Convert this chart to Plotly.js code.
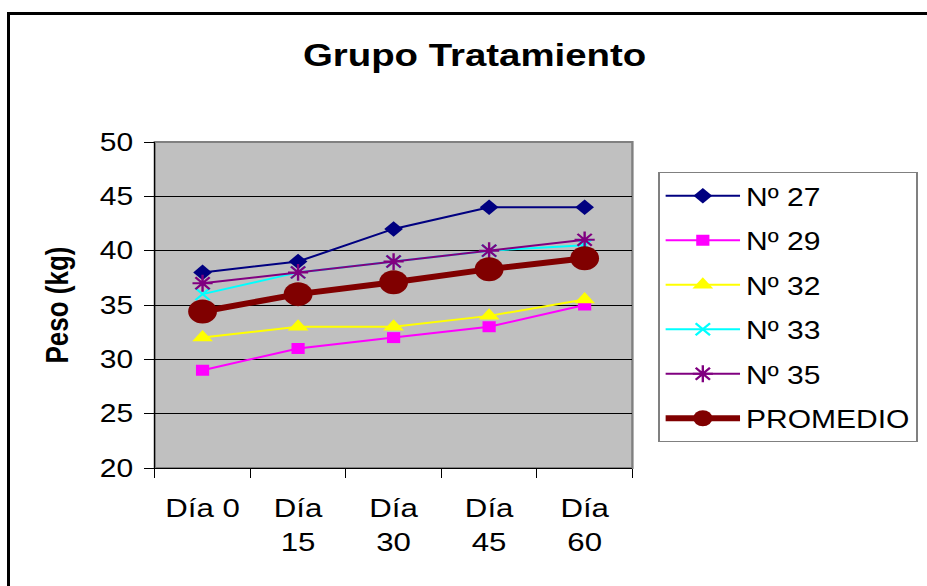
<!DOCTYPE html>
<html>
<head>
<meta charset="utf-8">
<script src="https://cdn.plot.ly/plotly-3.0.1.min.js"></script>
<style>
  html, body { margin: 0; padding: 0; width: 927px; height: 586px; overflow: hidden; background: #fff; }
  #wrap { position: absolute; left: 0; top: 0; width: 772.5px; height: 586px; transform: scaleX(1.2); transform-origin: 0 0; }
  #chart { width: 772.5px; height: 586px; }
  #frame { position: absolute; left: 7px; top: 12px; width: 960px; height: 620px; border: 3px solid #000; pointer-events: none; }
</style>
</head>
<body>
<div id="wrap"><div id="chart"></div></div>
<div id="frame"></div>
<script>
const categories = ["Día 0", "Día<br>15", "Día<br>30", "Día<br>45", "Día<br>60"];
const seriesNames = ["Nº 27", "Nº 29", "Nº 32", "Nº 33", "Nº 35", "PROMEDIO"];
const n27 = [38, 39, 42, 44, 44];
const n29 = [29, 31, 32, 33, 35];
const n32 = [32, 33, 33, 34, 35.5];
const n33 = [36, 38, 39, 40, 40.5];
const n35 = [37, 38, 39, 40, 41];
const promedio = [34.4, 36, 37.1, 38.3, 39.3];
const yTicks = [20, 25, 30, 35, 40, 45, 50];

const values = [n27, n29, n32, n33, n35, promedio];
const colors = ["#000080", "#ff00ff", "#ffff00", "#00ffff", "#800080", "#800000"];
const symbols = ["diamond", "square", "triangle-up", "x-thin-open", "asterisk-open", "circle"];
const sizes = [12, 11, 15, 12, 14, 24];
const widths = [2, 2, 2, 2, 2, 6];

const traces = values.map((v, i) => ({
  x: categories,
  y: v,
  name: seriesNames[i],
  legendgroup: "g" + i,
  type: "scatter",
  mode: "lines+markers",
  line: { color: colors[i], width: widths[i] },
  marker: {
    symbol: symbols[i],
    size: sizes[i],
    color: colors[i],
    line: { color: colors[i], width: (i === 3 || i === 4) ? 2 : 0 }
  }
}));

const layout = {
  width: 772.5,
  height: 586,
  margin: { l: 129.2, r: 245.8, t: 142, b: 118, autoexpand: false },
  paper_bgcolor: "rgba(0,0,0,0)",
  plot_bgcolor: "#c0c0c0",
  font: { family: "Liberation Sans, Arial, sans-serif", color: "#000", size: 25 },
  title: {
    text: "<b>Grupo Tratamiento</b>",
    font: { family: "Liberation Sans, Arial, sans-serif", size: 32, color: "#000" },
    x: 0.512, xanchor: "center", xref: "container",
    y: 0.906, yanchor: "middle"
  },
  xaxis: {
    type: "category",
    tickson: "boundaries",
    ticks: "outside",
    ticklen: 9,
    tickcolor: "#000",
    showline: true,
    linecolor: "#000",
    linewidth: 1,
    showgrid: false,
    tickfont: { size: 26 },
    ticklabelstandoff: 17,
    range: [-0.5, 4.5]
  },
  yaxis: {
    range: [20, 50],
    tickvals: yTicks,
    ticks: "outside",
    ticklen: 8,
    tickcolor: "#000",
    showline: true,
    linecolor: "#000",
    linewidth: 1,
    showgrid: true,
    gridcolor: "#000",
    gridwidth: 1,
    zeroline: false,
    tickfont: { size: 25 },
    ticklabelstandoff: 4,
    title: { text: "<b>Peso (kg)</b>", font: { size: 26 }, standoff: 18 }
  },
  shapes: [{
    type: "rect", xref: "paper", yref: "paper", x0: 0, x1: 1, y0: 0, y1: 1,
    line: { color: "#808080", width: 2 }, fillcolor: "rgba(0,0,0,0)", layer: "below"
  }],
  showlegend: true,
  legend: {
    x: 1.0545, xanchor: "left",
    y: 0.908, yanchor: "top",
    bgcolor: "#fff",
    bordercolor: "#808080",
    borderwidth: 1,
    font: { size: 25 },
    traceorder: "grouped",
    tracegroupgap: 9,
    itemwidth: 62
  }
};

Plotly.newPlot("chart", traces, layout, { displayModeBar: false, staticPlot: true });
</script>
</body>
</html>
